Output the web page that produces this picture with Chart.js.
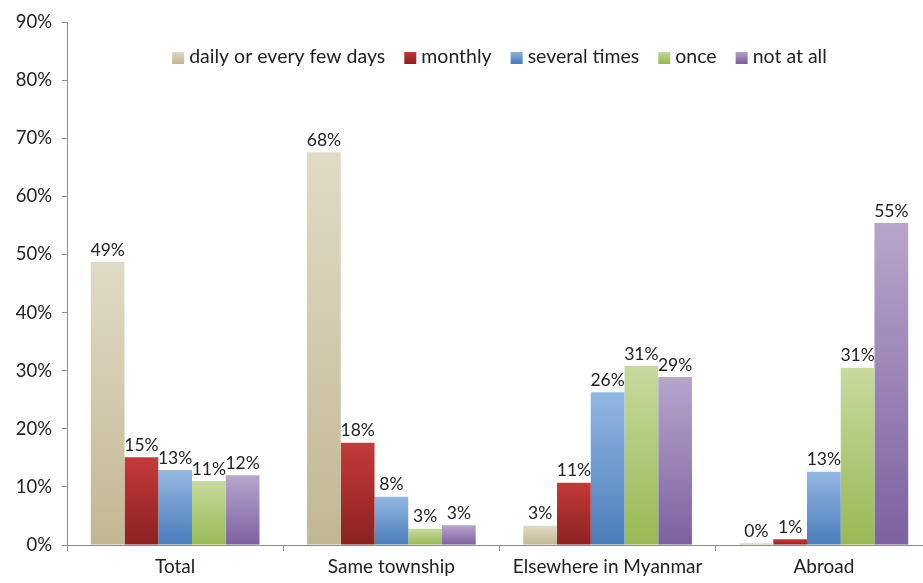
<!DOCTYPE html>
<html>
<head>
<meta charset="utf-8">
<script src="https://cdn.jsdelivr.net/npm/chart.js@4/dist/chart.umd.min.js"></script>
<style>
  html, body { margin: 0; padding: 0; background: #fff; overflow: hidden; }
  #wrap { width: 932px; height: 583px; }
</style>
</head>
<body>
<div id="wrap"><canvas id="barChart"></canvas></div>
<script>
var places = ["Total", "Same township", "Elsewhere in Myanmar", "Abroad"];
var seriesNames = ["daily or every few days", "monthly", "several times", "once", "not at all"];
var daily   = [48.7, 67.6, 3.3, 0.3];
var monthly = [15.1, 17.6, 10.7, 1.0];
var several = [12.9, 8.3, 26.3, 12.6];
var once    = [11.0, 2.8, 30.8, 30.5];
var notAtAll = [12.0, 3.4, 28.9, 55.4];
var yTicks = [0, 10, 20, 30, 40, 50, 60, 70, 80, 90];

// light top / dark bottom for each series
var shades = [
    ["#e0dbc6", "#c2b793"],
    ["#c43a3a", "#8b2121"],
    ["#93b7e2", "#4a7dbb"],
    ["#c7da9f", "#98b954"],
    ["#b6a6cb", "#7d61a0"]
];

function barFill(i) {
    return function (ctx) {
        var chart = ctx.chart;
        if (!chart.chartArea || ctx.type !== 'data') return shades[i][1];
        var y = chart.scales.y;
        var top = y.getPixelForValue(ctx.raw);
        var bottom = y.getPixelForValue(0);
        if (bottom - top < 1) return shades[i][1];
        var g = chart.ctx.createLinearGradient(0, top, 0, bottom);
        g.addColorStop(0, shades[i][0]);
        g.addColorStop(1, shades[i][1]);
        return g;
    };
}

var allSeries = [daily, monthly, several, once, notAtAll];
var datasets = allSeries.map(function (vals, i) {
    return {
        label: seriesNames[i],
        data: vals,
        backgroundColor: barFill(i),
        borderWidth: 0,
        categoryPercentage: 0.78,
        barPercentage: 1.0
    };
});

var FONT = "Lato, 'Open Sans', sans-serif";

// value labels above each bar
var valueLabels = {
    id: 'valueLabels',
    afterDatasetsDraw: function (chart) {
        var c = chart.ctx;
        c.save();
        c.font = "17.5px " + FONT;
        c.fillStyle = "#222";
        c.textAlign = "center";
        c.textBaseline = "middle";
        chart.data.datasets.forEach(function (ds, i) {
            chart.getDatasetMeta(i).data.forEach(function (bar, j) {
                c.fillText(Math.round(ds.data[j]) + "%", bar.x, bar.y - 12);
            });
        });
        c.restore();
    }
};

// legend row drawn inside the plot area
var insideLegend = {
    id: 'insideLegend',
    afterDraw: function (chart) {
        var c = chart.ctx;
        var box = 12, gap = 5, spacing = 19, y = 57;
        c.save();
        c.font = "19.5px " + FONT;
        c.textBaseline = "middle";
        var widths = seriesNames.map(function (n) { return box + gap + c.measureText(n).width; });
        var total = widths.reduce(function (a, b) { return a + b; }, 0) + spacing * (widths.length - 1);
        var area = chart.chartArea;
        var x = (area.left + area.right) / 2 - total / 2;
        seriesNames.forEach(function (n, i) {
            var g = c.createLinearGradient(0, y - box / 2, 0, y + box / 2);
            g.addColorStop(0, shades[i][0]);
            g.addColorStop(1, shades[i][1]);
            c.fillStyle = g;
            c.fillRect(x, y - box / 2 + 1, box, box);
            c.fillStyle = "#222";
            c.fillText(n, x + box + gap, y);
            x += widths[i] + spacing;
        });
        c.restore();
    }
};

new Chart(document.getElementById("barChart"), {
    type: 'bar',
    data: { labels: places, datasets: datasets },
    options: {
        responsive: true,
        maintainAspectRatio: false,
        animation: false,
        layout: { padding: { top: 22, right: 0, left: 0, bottom: 0 } },
        plugins: {
            legend: { display: false },
            tooltip: { enabled: false }
        },
        scales: {
            x: {
                grid: { display: true, drawOnChartArea: false, offset: true, tickLength: 6, color: "#8c8c8c" },
                border: { color: "#8c8c8c" },
                ticks: { color: "#222", font: { family: FONT, size: 19 }, padding: 4 },
                afterFit: function (s) { s.height = 38; }
            },
            y: {
                min: 0,
                max: 90,
                afterBuildTicks: function (s) { s.ticks = yTicks.map(function (v) { return { value: v }; }); },
                grid: { display: true, drawOnChartArea: false, tickLength: 5, color: "#8c8c8c" },
                border: { color: "#8c8c8c" },
                ticks: {
                    color: "#222",
                    font: { family: FONT, size: 18.5 },
                    padding: 10,
                    callback: function (v) { return v + "%"; }
                },
                afterFit: function (s) { s.width = 67; }
            }
        }
    },
    plugins: [valueLabels, insideLegend]
});
</script>
</body>
</html>
